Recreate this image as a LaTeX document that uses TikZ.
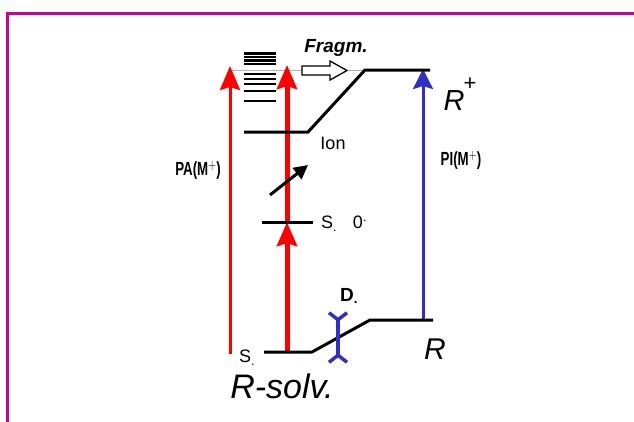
\documentclass[tikz,border=0pt]{standalone}
\usepackage{fontspec}
\setmainfont{Liberation Sans}
\usetikzlibrary{arrows.meta}
\definecolor{frame}{RGB}{204,0,153}
\definecolor{piblue}{RGB}{48,48,200}
\begin{document}
\begin{tikzpicture}[x=1pt,y=-1pt,
    level/.style={line width=3pt},
    redup/.style={red, line width=#1, -{Stealth[length=24pt,width=20pt,inset=3pt]}},
    label/.style={inner sep=0pt, font=\fontsize{18}{18}\selectfont},
    plabel/.style={inner sep=0pt, font=\fontsize{19}{19}\selectfont\bfseries, xscale=0.7, transform shape}]
    \useasboundingbox (0,0) rectangle (634,421);
    \draw[frame, line width=3pt] (7.5,430) -- (7.5,13.5) -- (640,13.5);

    % levels
    \coordinate (sL) at (264,352);  \coordinate (sR) at (312,352);
    \coordinate (rL) at (370,320);  \coordinate (rR) at (433,320);
    \coordinate (ionL) at (244,132); \coordinate (ionR) at (308,132);
    \coordinate (rpL) at (365,70);  \coordinate (rpR) at (430,70);
    \coordinate (s0L) at (262,222); \coordinate (s0R) at (313,222);

    \draw[gray!60, line width=1pt] (232,70) -- (rpL);
    \foreach \y in {53.5,57,60.5,64}
        \draw[line width=2.3pt] (244,\y) -- (276,\y);
    \foreach \y in {74,79,84,91,101}
        \draw[line width=2.5pt] (244,\y) -- (276,\y);

    % fragmentation arrow
    \draw[fill=white, line width=1.3pt] (302,66) -- (330,66) -- (330,61) -- (347,70.5)
        -- (330,80) -- (330,75) -- (302,75) -- cycle;
    \node[label, font=\fontsize{19}{19}\selectfont\bfseries\itshape] (frag) at (336,48) {Fragm.};

    % excitation arrows
    \coordinate (paB) at (230,354); \coordinate (paT) at (230,66);
    \coordinate (exB) at (287,352); \coordinate (exM) at (287,222); \coordinate (exT) at (287,65);
    \coordinate (piB) at (423,320); \coordinate (piT) at (423,69);

    \draw[redup=3pt] (paB) -- (paT);
    \draw[redup=5pt] (exB) -- (exM);
    \draw[redup=5pt] (exM) -- (exT);
    \draw[piblue, line width=3pt, -{Stealth[length=20pt,width=20pt,inset=3pt]}] (piB) -- (piT);

    \draw[level] (sL) -- (sR) -- (rL) -- (rR);
    \draw[level] (ionL) -- (ionR) -- (rpL) -- (rpR);
    \draw[level] (s0L) -- (s0R);

    \coordinate (obA) at (270,195); \coordinate (obB) at (308,165);
    \draw[line width=3pt, -{Triangle[length=14pt,width=14pt]}] (obA) -- (obB);

    % solvent shift
    \coordinate (dT) at (338,311); \coordinate (dB) at (338,364);
    \draw[piblue, line width=3.5pt, {Straight Barb[reversed,length=7pt,width=18pt]}-{Straight Barb[reversed,length=7pt,width=18pt]}] (dT) -- (dB);

    % labels
    \node[label] (ion) at (333,143) {Ion};
    \node[label] (s0s) at (329,224) {S\textsubscript{.}};
    \node[label] (s0z) at (360,222) {0\textsuperscript{.}};
    \node[label, font=\fontsize{19}{19}\selectfont\bfseries] (dlab) at (349,296) {D\textsubscript{.}};
    \node[label] (slab) at (247,358) {S\textsubscript{.}};
    \node[plabel] (pa) at (198,170) {PA(M$^{+}$)};
    \node[plabel] (pi) at (461,160) {PI(M$^{+}$)};
    \node[label, font=\fontsize{29}{29}\selectfont\itshape] (rp) at (454,101) {R};
    \node[label, font=\fontsize{22}{22}\selectfont] (plus) at (470,84) {+};
    \node[label, font=\fontsize{30}{30}\selectfont\itshape] (r) at (435,349) {R};
    \node[label, font=\fontsize{34}{34}\selectfont\itshape] (rsolv) at (282,386) {R-solv.};
\end{tikzpicture}
\end{document}
